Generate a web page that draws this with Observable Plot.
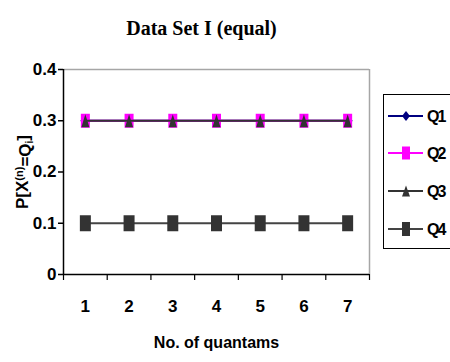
<!DOCTYPE html>
<html>
<head>
<meta charset="utf-8">
<script src="https://cdn.jsdelivr.net/npm/d3@7"></script>
<script src="https://cdn.jsdelivr.net/npm/@observablehq/plot@0.6"></script>
<style>
  body { margin: 0; background: #fff; }
  #chart { position: relative; width: 450px; height: 362px; overflow: hidden; background: #fff; }
  #chart svg { position: absolute; left: 0; top: 0; }
</style>
</head>
<body>
<div id="chart"></div>
<script>
// Number of quanta on the x axis
const quanta = [1, 2, 3, 4, 5, 6, 7];
// Probability P[X(n) = Qi] for each quantum level
const seriesNames = ["Q1", "Q2", "Q3", "Q4"];
const q1 = [0.3, 0.3, 0.3, 0.3, 0.3, 0.3, 0.3];
const q2 = [0.3, 0.3, 0.3, 0.3, 0.3, 0.3, 0.3];
const q3 = [0.3, 0.3, 0.3, 0.3, 0.3, 0.3, 0.3];
const q4 = [0.1, 0.1, 0.1, 0.1, 0.1, 0.1, 0.1];
const yTicks = [0, 0.1, 0.2, 0.3, 0.4];
const yTickLabels = ["0", "0.1", "0.2", "0.3", "0.4"];
const title = "Data Set I (equal)";
const xLabel = "No. of quantams";

const seriesValues = [q1, q2, q3, q4];
const rows = seriesNames.flatMap((s, i) =>
  quanta.map((q, j) => ({series: s, quanta: q, p: seriesValues[i][j]})));

// Category boundaries (tick marks sit between the categories)
const bounds = d3.range(quanta.length + 1).map(i => quanta[0] - 0.5 + i);

// Marker shapes (slightly taller than wide)
const box = (w, h) => ({draw(c) { c.moveTo(-w/2, -h/2); c.lineTo(w/2, -h/2); c.lineTo(w/2, h/2); c.lineTo(-w/2, h/2); c.closePath(); }});
const tri = (w, h) => ({draw(c) { c.moveTo(0, -h/2); c.lineTo(w/2, h/2); c.lineTo(-w/2, h/2); c.closePath(); }});
const diamond = (w, h) => ({draw(c) { c.moveTo(0, -h/2); c.lineTo(w/2, 0); c.lineTo(0, h/2); c.lineTo(-w/2, 0); c.closePath(); }});

const styles = {
  Q1: {color: "#000080", line: "#000080", symbol: diamond(10, 13)},
  Q2: {color: "#ff00ff", line: "#ff00ff", symbol: box(9, 14)},
  Q3: {color: "#333333", line: "#333333", symbol: tri(8, 13)},
  Q4: {color: "#333333", line: "#444444", symbol: box(11, 16)}
};

const font = "'Liberation Sans', Arial, sans-serif";

const seriesMarks = seriesNames.flatMap(s => {
  const d = rows.filter(r => r.series === s);
  return [
    Plot.line(d, {x: "quanta", y: "p", stroke: styles[s].line, strokeWidth: 2}),
    Plot.dot(d, {x: "quanta", y: "p", symbol: styles[s].symbol, fill: styles[s].color, stroke: "none"})
  ];
});

const plot = Plot.plot({
  width: 450,
  height: 362,
  marginTop: 69,
  marginBottom: 88,
  marginLeft: 63,
  marginRight: 81,
  style: {fontFamily: font, fontWeight: "bold", fontSize: "16px", color: "#000", background: "transparent"},
  x: {type: "linear", domain: [bounds[0], bounds[bounds.length - 1]], axis: null},
  y: {domain: [0, 0.4], axis: null},
  marks: [
    // plot-area outline: grey top and right, black axes
    Plot.ruleY([0.4], {stroke: "#a6a6a6", strokeWidth: 1.5}),
    Plot.ruleX([bounds[bounds.length - 1]], {stroke: "#a6a6a6", strokeWidth: 1.5}),
    Plot.ruleY([0], {stroke: "#000", strokeWidth: 1.5}),
    Plot.ruleX([bounds[0]], {stroke: "#000", strokeWidth: 1.5}),
    Plot.axisY(yTicks, {label: null, tickSize: 5, tickPadding: 2, tickFormat: (d, i) => yTickLabels[i], fontSize: 17, fontWeight: "bold", letterSpacing: "-1.5px", strokeWidth: 1.5}),
    Plot.axisX(bounds, {label: null, tickSize: 6, tickFormat: () => "", strokeWidth: 1.2}),
    Plot.axisX(quanta, {label: null, tickSize: 0, tickPadding: 25, fontSize: 17, fontWeight: "bold"}),
    ...seriesMarks,
    Plot.text([title], {frameAnchor: "top", dx: -15, dy: -49, fontFamily: "'Liberation Serif', 'Times New Roman', serif", fontSize: 20, fontWeight: "bold", fill: "#000"}),
    Plot.text([xLabel], {frameAnchor: "bottom", dy: 73, fontSize: 16, fontWeight: "bold", fill: "#000", letterSpacing: "-2px"}),
    Plot.text(["P[X=Q]"], {frameAnchor: "left", textAnchor: "middle", dx: -41, rotate: -90, fontSize: 17, fontWeight: "bold", fill: "#000", letterSpacing: "-0.5px", className: "ylab"})
  ]
});

document.getElementById("chart").appendChild(plot);

// y label with superscript (n) and subscript i
const ylab = d3.select(plot).select("g.ylab text");
if (!ylab.empty()) {
  ylab.text(null);
  ylab.append("tspan").text("P[X");
  ylab.append("tspan").attr("dy", "-0.45em").attr("font-size", "11px").text("(n)");
  ylab.append("tspan").attr("dy", "0.45em").text("=Q");
  ylab.append("tspan").attr("dy", "0.25em").attr("font-size", "10px").text("i");
  ylab.append("tspan").attr("dy", "-0.25em").text("]");
}

// legend box on the right
const legendRowsY = [116, 153, 191, 229];
const lg = d3.select("#chart").append("svg")
  .attr("width", 450).attr("height", 362)
  .style("font-family", font);
lg.append("rect").attr("x", 383.5).attr("y", 94.5).attr("width", 90).attr("height", 154)
  .attr("fill", "#fff").attr("stroke", "#000").attr("stroke-width", 1);
const legendSymbols = {Q1: diamond(8, 10), Q2: box(8, 13), Q3: tri(8, 11), Q4: box(8, 14)};
seriesNames.forEach((s, i) => {
  const y = legendRowsY[i];
  lg.append("line").attr("x1", 388).attr("x2", 423).attr("y1", y).attr("y2", y)
    .attr("stroke", styles[s].line).attr("stroke-width", 2);
  const p = d3.path();
  legendSymbols[s].draw(p);
  lg.append("path").attr("d", p.toString()).attr("transform", `translate(406,${y})`).attr("fill", styles[s].color);
  lg.append("text").attr("x", 427).attr("y", y).attr("dy", "0.36em")
    .attr("font-size", 16).attr("font-weight", "bold").attr("letter-spacing", "-2px").text(s);
});
</script>
</body>
</html>
